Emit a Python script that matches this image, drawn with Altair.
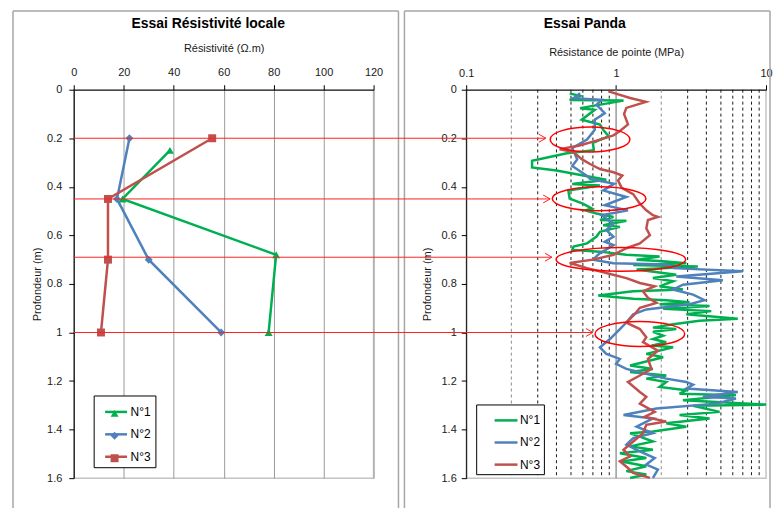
import altair as alt
import pandas as pd

FONT = "Liberation Sans"
SERIES = ["N°1", "N°2", "N°3"]
COLORS = ["#00B050", "#4F81BD", "#C0504D"]
SHAPES = ["triangle-up", "diamond", "square"]
MARK_SIZES = [64, 64, 86]

# ---------------- Left panel : Essai Résistivité locale ----------------
res1_depth = [0.25, 0.45, 0.68, 1.0]
res1_val = [38.5, 19.5, 81, 78]
res2_depth = [0.2, 0.45, 0.7, 1.0]
res2_val = [22.3, 17.3, 30, 59]
res3_depth = [0.2, 0.45, 0.7, 1.0]
res3_val = [55.4, 13.7, 13.7, 10.9]
res_ticks = [0, 20, 40, 60, 80, 100, 120]
depth_ticks = [0, 0.2, 0.4, 0.6, 0.8, 1, 1.2, 1.4, 1.6]

# ---------------- Right panel : Essai Panda ----------------
p1_depth = [0.015, 0.026, 0.042, 0.045, 0.076, 0.083, 0.124, 0.144, 0.165, 0.192, 0.219, 0.249,
            0.262, 0.293, 0.32, 0.333, 0.371, 0.388, 0.395, 0.415, 0.449, 0.469, 0.49, 0.497,
            0.51, 0.524, 0.537, 0.54, 0.558, 0.565, 0.585, 0.605, 0.633, 0.646, 0.66, 0.667,
            0.68, 0.687, 0.70, 0.707, 0.715, 0.722, 0.728, 0.741, 0.762, 0.776, 0.789, 0.81,
            0.823, 0.83, 0.848, 0.861, 0.867, 0.875, 0.884, 0.891, 0.902, 0.912, 0.925, 0.943,
            0.952, 0.966, 0.98, 0.986, 0.997, 1.013, 1.027, 1.04, 1.054, 1.061, 1.088, 1.102,
            1.136, 1.15, 1.163, 1.177, 1.19, 1.204, 1.224, 1.238, 1.252, 1.258, 1.279, 1.297,
            1.302, 1.327, 1.34, 1.354, 1.374, 1.388, 1.408, 1.415, 1.429, 1.449, 1.469, 1.483,
            1.497, 1.517, 1.531, 1.551, 1.571, 1.585, 1.599]
p1_val = [0.49, 0.575, 0.49, 1.12, 0.575, 0.72, 0.59, 0.78, 0.82, 0.89, 0.70, 0.71,
          0.47, 0.275, 0.275, 0.40, 0.86, 0.51, 0.78, 0.48, 0.49, 0.60, 0.69, 0.62,
          0.74, 0.96, 0.78, 1.17, 0.82, 1.06, 0.78, 0.74, 0.64, 0.52, 0.51, 0.78,
          1.17, 1.95, 1.37, 2.06, 2.94, 1.30, 3.51, 1.37, 2.52, 1.76, 2.40, 1.95,
          2.79, 1.30, 0.76, 1.30, 2.16, 3.09, 1.95, 4.20, 2.06, 4.31, 2.94, 6.48,
          3.60, 2.40, 1.76, 2.52, 1.76, 2.06, 1.76, 2.16, 1.72, 2.40, 1.59, 2.06,
          1.24, 1.76, 1.24, 2.16, 1.59, 2.16, 1.95, 2.94, 2.65, 6.3, 2.79, 10.0,
          3.26, 4.90, 2.65, 4.20, 2.16, 2.94, 1.76, 1.24, 1.44, 1.76, 1.24, 1.76,
          1.06, 1.59, 1.09, 1.59, 1.17, 1.59, 1.24]

p2_depth = [0.015, 0.035, 0.042, 0.062, 0.097, 0.124, 0.165, 0.205, 0.24, 0.287, 0.314, 0.355,
            0.367, 0.388, 0.415, 0.442, 0.476, 0.497, 0.517, 0.551, 0.578, 0.606, 0.626, 0.64,
            0.653, 0.673, 0.70, 0.715, 0.72, 0.735, 0.748, 0.769, 0.785, 0.803, 0.823, 0.844,
            0.867, 0.884, 0.905, 0.925, 0.959, 0.986, 1.027, 1.061, 1.088, 1.109, 1.129, 1.15,
            1.17, 1.19, 1.204, 1.215, 1.231, 1.245, 1.265, 1.272, 1.293, 1.313, 1.34, 1.354,
            1.388, 1.415, 1.435, 1.462, 1.49, 1.517, 1.544, 1.565, 1.599]
p2_val = [0.575, 0.52, 0.80, 0.74, 0.84, 0.72, 0.72, 0.64, 0.51, 0.55, 0.51, 0.64,
          0.67, 0.97, 0.82, 1.17, 0.84, 1.20, 0.80, 0.96, 0.86, 0.96, 0.84, 0.96,
          0.89, 0.78, 0.70, 0.96, 2.2, 2.4, 7.0, 2.52, 5.15, 2.79, 2.40, 3.26,
          3.89, 3.09, 1.59, 1.30, 1.17, 1.06, 0.91, 0.78, 0.86, 1.06, 1.0, 1.17,
          1.59, 2.16, 2.94, 3.26, 2.94, 6.48, 3.79, 6.3, 4.65, 1.86, 1.12, 1.76,
          1.37, 1.76, 1.30, 1.17, 1.44, 1.81, 1.59, 1.90, 1.76]

p3_depth = [0.007, 0.034, 0.05, 0.075, 0.10, 0.143, 0.17, 0.188, 0.21, 0.23, 0.245, 0.257,
            0.286, 0.306, 0.327, 0.34, 0.354, 0.374, 0.404, 0.43, 0.47, 0.497, 0.517, 0.524,
            0.537, 0.571, 0.599, 0.633, 0.653, 0.68, 0.70, 0.714, 0.735, 0.755, 0.776, 0.796,
            0.81, 0.83, 0.857, 0.878, 0.898, 0.925, 0.959, 0.986, 1.02, 1.04, 1.075, 1.109,
            1.15, 1.177, 1.204, 1.245, 1.265, 1.293, 1.327, 1.347, 1.367, 1.38, 1.415, 1.449,
            1.483, 1.51, 1.53, 1.558, 1.578, 1.599]
p3_val = [0.89, 1.24, 1.58, 1.17, 1.13, 1.20, 1.06, 0.96, 0.74, 0.57, 0.42, 0.52,
          0.59, 0.67, 0.78, 0.96, 1.10, 1.03, 1.09, 1.30, 1.44, 1.59, 1.76, 1.90,
          1.63, 1.59, 1.68, 1.44, 1.17, 0.96, 0.70, 0.49, 0.64, 0.86, 1.17, 1.44,
          1.81, 1.51, 1.63, 1.86, 1.44, 1.33, 1.17, 1.44, 1.59, 1.51, 1.90, 1.63,
          1.72, 1.44, 1.20, 1.44, 1.59, 1.44, 1.81, 1.55, 2.16, 1.59, 1.51, 1.30,
          1.12, 1.24, 1.06, 1.20, 1.30, 1.68]

panda_ticks = [0.1, 1, 10]
minor_grid_grey = [0.2, 2]
minor_grid_black = [0.3, 0.4, 0.5, 0.6, 0.7, 0.8, 0.9, 3, 4, 5, 6, 7, 8, 9]
major_grid = [1]

# annotations: arrows (depth, tip value) and ellipses (depth, centre value, px size)
arrow_depth = [0.2, 0.45, 0.69, 1.0]
arrow_tip = [0.34, 0.363, 0.373, 0.70]
ell_depth = [0.205, 0.449, 0.699, 1.006]
ell_centre = [0.67, 0.77, 1.076, 1.44]
ell_w = [80, 94, 130, 90]
ell_h = [25, 24, 24, 25]

W, H = 301, 390
GAP = 93
NBSP = "\u00a0"


def series_frame(pairs):
    rows = []
    for name, (d, v) in zip(SERIES, pairs):
        rows += [{"serie": name, "depth": a, "value": b} for a, b in zip(d, v)]
    return pd.DataFrame(rows)


def ellipse_path(ratio):
    k = 0.5523
    r = ratio
    return (f"M -1 0 C -1 {-k*r:.4f} {-k:.4f} {-r:.4f} 0 {-r:.4f} "
            f"C {k:.4f} {-r:.4f} 1 {-k*r:.4f} 1 0 "
            f"C 1 {k*r:.4f} {k:.4f} {r:.4f} 0 {r:.4f} "
            f"C {-k:.4f} {r:.4f} -1 {k*r:.4f} -1 0 Z")


one = pd.DataFrame({"t": [""]})


def frame_box(x1, x2, y1, y2):
    """Panel border (top, left and right sides; the bottom is cut off by the page)."""
    base = alt.Chart(one).mark_rule(color="#a6a6a6", strokeWidth=1.5)
    return [
        base.encode(x=alt.value(x1), x2=alt.value(x2), y=alt.value(y1)),
        base.encode(x=alt.value(x1), y=alt.value(y1), y2=alt.value(y2)),
        base.encode(x=alt.value(x2), y=alt.value(y1), y2=alt.value(y2)),
    ]


df_left = series_frame([(res1_depth, res1_val), (res2_depth, res2_val), (res3_depth, res3_val)])
df_right = series_frame([(p1_depth, p1_val), (p2_depth, p2_val), (p3_depth, p3_val)])

axis_common = dict(labelFont=FONT, labelFontSize=11, labelColor="#1a1a1a", titleFont=FONT,
                   titleFontSize=11, titleFontWeight="normal", titleColor="#1a1a1a",
                   domainColor="black", tickColor="black", tickSize=5, labelFlush=False)

y_left = alt.Y("depth:Q", scale=alt.Scale(domain=[0, 1.6], reverse=True, nice=False, padding=0),
               axis=alt.Axis(values=depth_ticks, format="~g", title="Profondeur (m)", grid=False,
                             labelPadding=7, titlePadding=4, **axis_common))
x_left = alt.X("value:Q", scale=alt.Scale(domain=[0, 120], nice=False, padding=0),
               axis=alt.Axis(orient="top", values=res_ticks, title="Résistivité (Ω.m)", grid=True,
                             gridColor="#9a9a9a", labelPadding=7, titlePadding=13, **axis_common))

legend_line_left = alt.Legend(orient="none", legendX=20, legendY=307, title=None, symbolType="stroke",
                              symbolSize=484, symbolStrokeWidth=2.5, labelFont=FONT, labelFontSize=12,
                              labelColor="black", strokeColor="black", fillColor="white", padding=4,
                              rowPadding=3.5, labelOffset=2, symbolOffset=6,
                              labelExpr=f"datum.label + '{NBSP * 4}'")
legend_pts_left = alt.Legend(orient="none", legendX=25, legendY=315, title=None, labelFont=FONT,
                             labelFontSize=12, labelExpr="''", padding=4, rowPadding=10.5,
                             labelOffset=2, symbolOffset=6, symbolStrokeWidth=0)

title_left = alt.Chart(one).mark_text(text="Essai Résistivité locale", font=FONT, fontSize=14,
                                      fontWeight="bold", align="center", baseline="middle",
                                      color="black").encode(x=alt.value(135), y=alt.value(-66))
lines_left = alt.Chart(df_left).mark_line(strokeWidth=2.5).encode(
    x=x_left, y=y_left, order=alt.Order("depth:Q"),
    color=alt.Color("serie:N", scale=alt.Scale(domain=SERIES, range=COLORS), legend=legend_line_left))
points_left = alt.Chart(df_left).mark_point(filled=True, opacity=1).encode(
    x=x_left, y=y_left,
    color=alt.Color("serie:N", scale=alt.Scale(domain=SERIES, range=COLORS), legend=legend_pts_left),
    shape=alt.Shape("serie:N", scale=alt.Scale(domain=SERIES, range=SHAPES), legend=legend_pts_left),
    size=alt.Size("serie:N", scale=alt.Scale(domain=SERIES, range=MARK_SIZES), legend=legend_pts_left))

left = alt.layer(*frame_box(-61, 326, -79, 432), title_left, lines_left, points_left).resolve_scale(
    color="independent", shape="independent", size="independent").properties(width=W, height=H)

# ---------------- right ----------------
y_right = alt.Y("depth:Q", scale=alt.Scale(domain=[0, 1.6], reverse=True, nice=False, padding=0),
                axis=alt.Axis(values=depth_ticks, format="~g", title="Profondeur (m)", grid=False,
                              labelPadding=5, titlePadding=9, **axis_common))
x_right = alt.X("value:Q", scale=alt.Scale(type="log", domain=[0.1, 10], nice=False, padding=0),
                axis=alt.Axis(orient="top", values=panda_ticks, format="~g",
                              title="Résistance de pointe (MPa)", grid=False, labelPadding=6,
                              titlePadding=10, **axis_common))

title_right = alt.Chart(one).mark_text(text="Essai Panda", font=FONT, fontSize=14, fontWeight="bold",
                                       align="center", baseline="middle", color="black").encode(
    x=alt.value(119), y=alt.value(-66))

grid_black = alt.Chart(pd.DataFrame({"value": minor_grid_black})).mark_rule(
    color="#1a1a1a", strokeWidth=1, strokeDash=[3, 3]).encode(x=x_right)
grid_grey = alt.Chart(pd.DataFrame({"value": minor_grid_grey})).mark_rule(
    color="#8a8a8a", strokeWidth=1, strokeDash=[3, 3]).encode(x=x_right)
grid_major = alt.Chart(pd.DataFrame({"value": major_grid})).mark_rule(
    color="#9a9a9a", strokeWidth=1.5).encode(x=x_right)

legend_right = alt.Legend(orient="none", legendX=10, legendY=316, title=None, symbolType="stroke",
                          symbolSize=529, symbolStrokeWidth=2.5, labelFont=FONT, labelFontSize=12,
                          labelColor="black", strokeColor="black", fillColor="white", padding=3,
                          rowPadding=3.2, labelOffset=1, symbolOffset=14,
                          labelExpr=f"datum.label + '{NBSP * 10}'")
lines_right = alt.Chart(df_right).mark_line(strokeWidth=2.5).encode(
    x=x_right, y=y_right, order=alt.Order("depth:Q"),
    color=alt.Color("serie:N", scale=alt.Scale(domain=SERIES, range=COLORS), legend=legend_right))

df_arrow = pd.DataFrame({"depth": arrow_depth, "value": arrow_tip})
arrow_lines = alt.Chart(df_arrow).mark_rule(color="#ff2020", strokeWidth=1).encode(
    x=x_right, x2=alt.value(-(W + GAP)), y=y_right)
arrow_heads = alt.Chart(df_arrow).mark_point(
    shape="M -1 -0.57 L 0 0 L -1 0.57", size=196, filled=False, color="#ff2020", strokeWidth=1,
    opacity=1).encode(x=x_right, y=y_right)

df_ell = pd.DataFrame({"depth": ell_depth, "value": ell_centre,
                       "path": [ellipse_path(h / w) for w, h in zip(ell_w, ell_h)],
                       "size": [w * w for w in ell_w]})
ellipses = alt.Chart(df_ell).mark_point(filled=False, color="#ff0000", strokeWidth=1.5, opacity=1).encode(
    x=x_right, y=y_right, shape=alt.Shape("path:N", scale=None), size=alt.Size("size:Q", scale=None))

right = alt.layer(*frame_box(-62, 305, -79, 432), title_right, grid_grey, grid_black, grid_major,
                  lines_right, ellipses, arrow_lines, arrow_heads).properties(width=W, height=H)

chart = alt.hconcat(left, right, spacing=GAP, bounds="flush").resolve_scale(
    color="independent", shape="independent", size="independent").resolve_legend(
    color="independent", shape="independent", size="independent").configure(
    padding={"left": 3, "top": 0, "right": 0, "bottom": 0}, background="white").configure_view(
    stroke="#c4c4c4", strokeWidth=1.5)

chart.save("out.html", embed_options={"renderer": "svg", "actions": False})
